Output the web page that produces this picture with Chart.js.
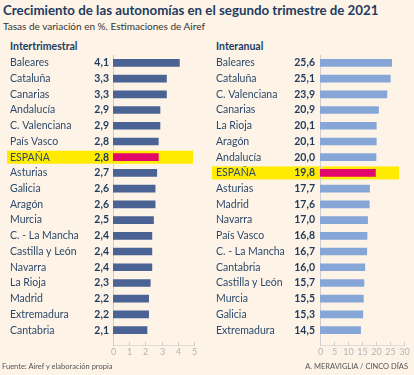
<!DOCTYPE html>
<html>
<head>
<meta charset="utf-8">
<script src="https://cdn.jsdelivr.net/npm/chart.js@4"></script>
<style>
  body { margin: 0; background: #fdf3e7; }
  #wrap { position: relative; width: 414px; height: 375px; overflow: hidden; font-family: Lato, sans-serif; background: #fdf3e7; }
  .t { position: absolute; white-space: nowrap; }
  #title { left: 3px; top: 2px; font-size: 13.3px; font-weight: bold; color: #1f3b60; }
  #sub { left: 3px; top: 20px; font-size: 10px; color: #333; }
  .head { top: 40px; font-size: 10.5px; font-weight: bold; color: #1f3b60; }
  .foot { top: 362px; font-size: 7.5px; color: #555; }
  canvas { position: absolute; top: 0; }
</style>
</head>
<body>
<div id="wrap">
  <div class="t" id="title">Crecimiento de las autonomías en el segundo trimestre de 2021</div>
  <div class="t" id="sub">Tasas de variación en %. Estimaciones de Airef</div>
  <div class="t head" style="left:10px">Intertrimestral</div>
  <div class="t head" style="left:216px">Interanual</div>
  <canvas id="leftChart" width="207" height="375" style="left:0"></canvas>
  <canvas id="rightChart" width="207" height="375" style="left:207px"></canvas>
  <div class="t foot" style="left:2px">Fuente: Airef y elaboración propia</div>
  <div class="t foot" style="right:6px">A. MERAVIGLIA / CINCO DÍAS</div>
</div>
<script>
// Intertrimestral
var leftRegions = [
  "Baleares", "Cataluña", "Canarias", "Andalucía", "C. Valenciana", "País Vasco",
  "ESPAÑA", "Asturias", "Galicia", "Aragón", "Murcia", "C. - La Mancha",
  "Castilla y León", "Navarra", "La Rioja", "Madrid", "Extremadura", "Cantabria",
];
var leftValues = [4.1, 3.3, 3.3, 2.9, 2.9, 2.8, 2.8, 2.7, 2.6, 2.6, 2.5, 2.4, 2.4, 2.4, 2.3, 2.2, 2.2, 2.1];
var leftTicks = [0, 1, 2, 3, 4, 5];

// Interanual
var rightRegions = [
  "Baleares", "Cataluña", "C. Valenciana", "Canarias", "La Rioja", "Aragón",
  "Andalucía", "ESPAÑA", "Asturias", "Madrid", "Navarra", "País Vasco",
  "C. - La Mancha", "Cantabria", "Castilla y León", "Murcia", "Galicia", "Extremadura",
];
var rightValues = [25.6, 25.1, 23.9, 20.9, 20.1, 20.1, 20.0, 19.8, 17.7, 17.6, 17.0, 16.8, 16.7, 16.0, 15.7, 15.5, 15.3, 14.5];
var rightTicks = [0, 5, 10, 15, 20, 25, 30];

var HILITE = "ESPAÑA";

// draws highlight band, names, values and bottom axis
var panelPlugin = {
  id: "panel",
  beforeDatasetsDraw(chart, args, opts) {
    const ctx = chart.ctx;
    const y = chart.scales.y;
    const labels = chart.data.labels;
    const i = labels.indexOf(HILITE);
    if (i >= 0) {
      const cy = y.getPixelForValue(i);
      ctx.fillStyle = "#ffeb00";
      ctx.fillRect(opts.bandLeft, cy - 6.5, opts.bandRight - opts.bandLeft, 13);
    }
    // zero line
    const x = chart.scales.x;
    const x0 = x.getPixelForValue(0);
    ctx.strokeStyle = "#cfcfcf";
    ctx.lineWidth = 1;
    ctx.beginPath();
    ctx.moveTo(Math.round(x0) + 0.5, 55);
    ctx.lineTo(Math.round(x0) + 0.5, 345);
    ctx.stroke();
    // bottom axis
    ctx.strokeStyle = "#e3dcd2";
    ctx.beginPath();
    ctx.moveTo(x0, 345.5);
    ctx.lineTo(x.getPixelForValue(opts.ticks[opts.ticks.length - 1]), 345.5);
    ctx.stroke();
    ctx.strokeStyle = "#cfcfcf";
    ctx.fillStyle = "#b5b5b5";
    ctx.font = "9px Lato";
    ctx.textAlign = "center";
    ctx.textBaseline = "middle";
    opts.ticks.forEach((t) => {
      const px = Math.round(x.getPixelForValue(t)) + 0.5;
      ctx.beginPath();
      ctx.moveTo(px, 342);
      ctx.lineTo(px, 346);
      ctx.stroke();
      ctx.fillText(String(t), px, 352);
    });
    // names and values
    const values = chart.data.datasets[0].data;
    labels.forEach((name, k) => {
      const cy = y.getPixelForValue(k);
      ctx.textBaseline = "middle";
      ctx.textAlign = "left";
      ctx.font = "10.5px Lato";
      ctx.fillStyle = "#2d4a6c";
      ctx.fillText(name, opts.nameX, cy);
      ctx.textAlign = "right";
      ctx.font = "bold 10.5px Lato";
      ctx.fillStyle = "#1f3a5c";
      ctx.fillText(values[k].toFixed(1).replace(".", ","), opts.valueX, cy);
    });
  },
};

function makeConfig(labels, values, ticks, barColor, pad, opts) {
  return {
    type: "bar",
    data: {
      labels: labels,
      datasets: [
        {
          data: values,
          backgroundColor: labels.map((l) => (l == HILITE ? "#e2076a" : barColor)),
          barThickness: 7,
        },
      ],
    },
    options: {
      indexAxis: "y",
      responsive: false,
      animation: false,
      layout: { padding: pad },
      scales: {
        x: { display: false, min: ticks[0], max: ticks[ticks.length - 1] },
        y: { display: false },
      },
      plugins: {
        legend: { display: false },
        tooltip: { enabled: false },
        panel: opts,
      },
    },
    plugins: [panelPlugin],
  };
}

new Chart(
  document.getElementById("leftChart"),
  makeConfig(leftRegions, leftValues, leftTicks, "#4b6394",
    { left: 113, right: 13, top: 55, bottom: 37 },
    { bandLeft: 7, bandRight: 193, nameX: 10, valueX: 109, ticks: leftTicks })
);
new Chart(
  document.getElementById("rightChart"),
  makeConfig(rightRegions, rightValues, rightTicks, "#86a6d8",
    { left: 113, right: 10, top: 55, bottom: 37 },
    { bandLeft: 5, bandRight: 192, nameX: 9, valueX: 108, ticks: rightTicks })
);
</script>
</body>
</html>
